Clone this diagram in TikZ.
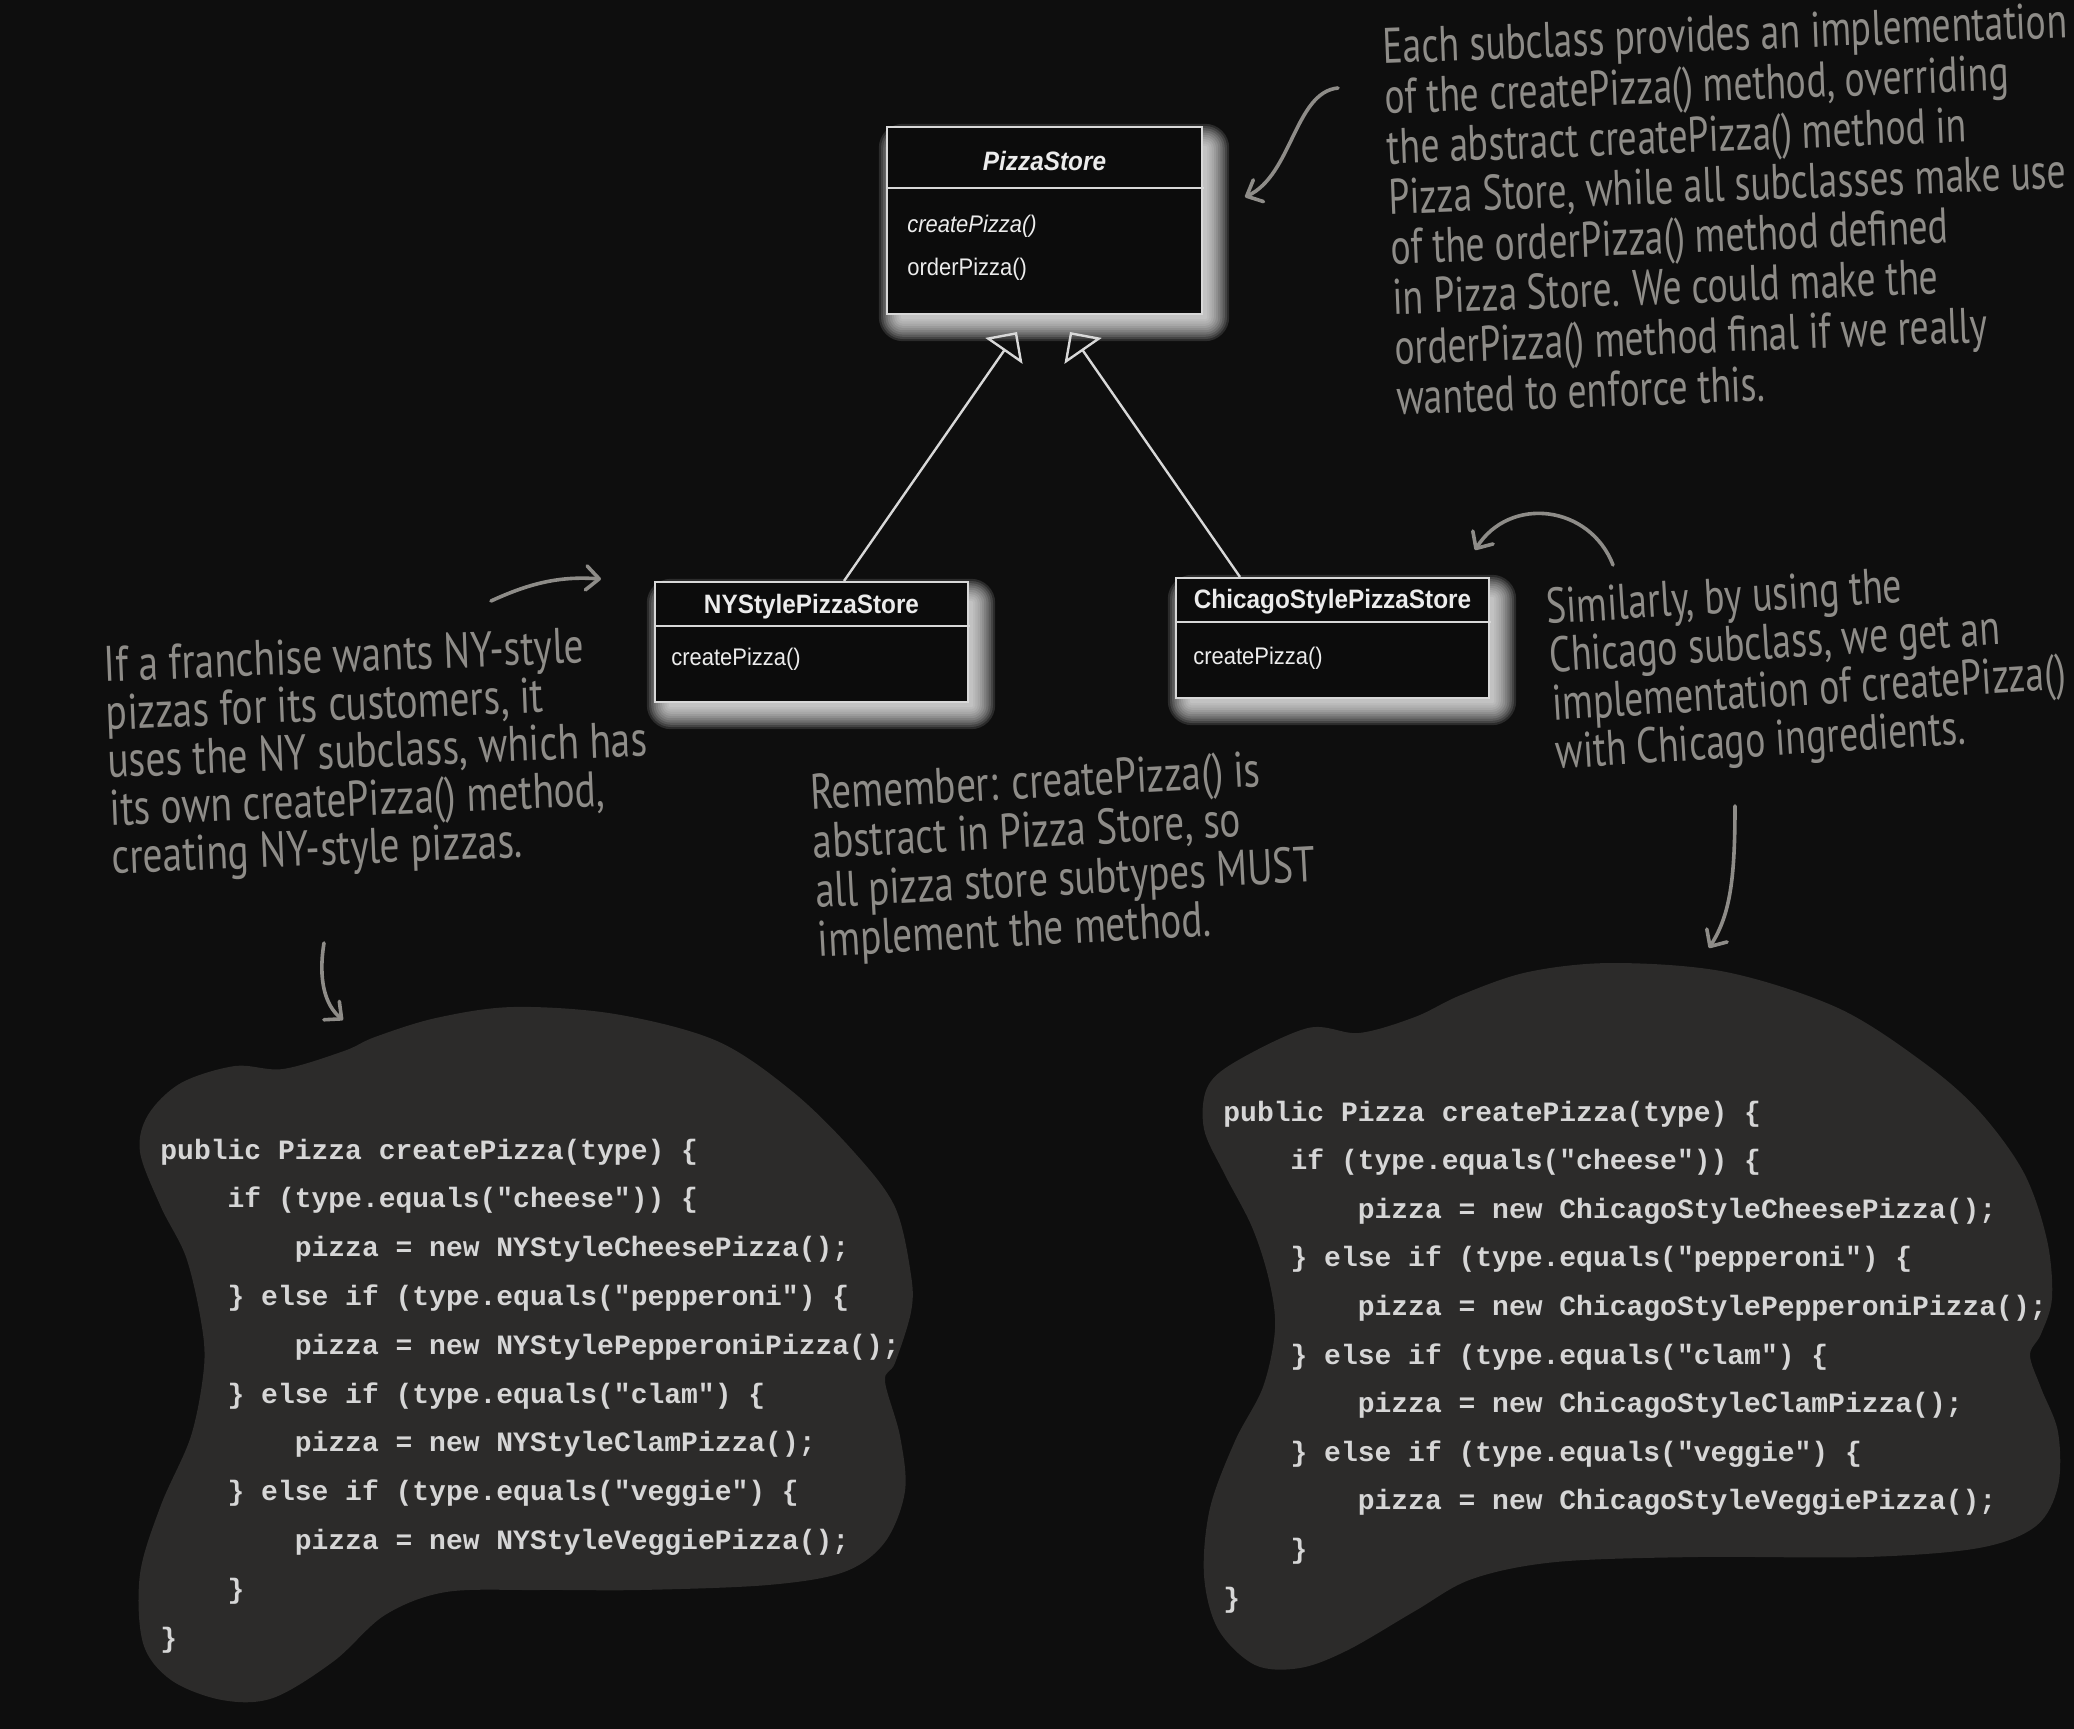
\documentclass[tikz,border=0pt]{standalone}
\usepackage{fontspec}
\setmainfont{Liberation Sans}
\newfontfamily\umlfont[FakeStretch=0.915]{Liberation Sans}
\newfontfamily\handTR[FakeStretch=0.754]{PT Sans}
\newfontfamily\handNY[FakeStretch=0.79]{PT Sans}
\newfontfamily\handRem[FakeStretch=0.783]{PT Sans}
\newfontfamily\handChi[FakeStretch=0.756]{PT Sans}
\newfontfamily\codefont{Liberation Mono}
\usetikzlibrary{arrows.meta,calc}
\definecolor{bgc}{HTML}{0E0E0E}
\definecolor{boxc}{HTML}{0C0C0C}
\definecolor{blobc}{HTML}{2C2B2A}
\definecolor{handc}{HTML}{8E8C88}
\definecolor{umlc}{HTML}{D8D8D8}
\definecolor{umltxt}{HTML}{ECECEC}
\definecolor{codec}{HTML}{D6D6D6}
\pgfdeclarelayer{bglayer}
\pgfdeclarelayer{glowlayer}
\pgfsetlayers{bglayer,glowlayer,main}
\tikzset{
 umlbox/.style={draw=umlc, line width=1pt, fill=boxc, inner sep=0pt},
 umltitle/.style={text=umltxt, font=\umlfont\bfseries\fontsize{13.3pt}{15pt}\selectfont, inner sep=0pt, anchor=base},
 umlmeth/.style={text=umltxt, font=\umlfont\fontsize{12pt}{14pt}\selectfont, inner sep=0pt, anchor=base west},
 inherit/.style={draw=umlc, line width=1.2pt, -{Triangle[open, length=11.5pt, width=22.5pt]}},
 hand/.style={text=handc, align=left, inner sep=0pt, anchor=north west},
 pointer/.style={draw=handc, line width=1.8pt, line cap=round, -{Straight Barb[length=6.5pt, width=12pt, round]}},
 codetxt/.style={text=codec, font=\codefont\bfseries\fontsize{14pt}{16pt}\selectfont, inner sep=0pt, anchor=base west}
}
\newcommand\glowof[1]{\foreach \e in {1,...,11}{\fill[white, opacity=0.12, rounded corners=1.1*\e pt] ($(#1.north west)+(17-2.2*\e,22-2.2*\e)$) rectangle ($(#1.south east)+(2+2.2*\e,2+2.2*\e)$);}}
\begin{document}
\begin{tikzpicture}[x=0.5pt, y=-0.5pt]
\begin{pgfonlayer}{bglayer}
\fill[bgc] (0,0) rectangle (2074,1729);
\end{pgfonlayer}
\useasboundingbox (0,0) rectangle (2074,1729);

% code blobs
\fill[blobc] plot[smooth cycle, tension=0.55] coordinates {(235,1066) (181,1083) (148,1115) (140,1152) (161,1207) (186,1257) (201,1321) (204,1367) (191,1436) (161,1505) (140,1574) (143,1643) (171,1680) (222,1700) (273,1698) (334,1661) (385,1615) (446,1592) (538,1590) (640,1590) (768,1585) (844,1572) (885,1542) (905,1491) (900,1436) (885,1381) (895,1363) (911,1312) (911,1275) (895,1207) (854,1152) (793,1092) (717,1041) (615,1014) (513,1007) (436,1018) (375,1037) (344,1051) (283,1069)};
\fill[blobc] plot[smooth cycle, tension=0.55] coordinates {(1308,1028) (1235,1062) (1207,1088) (1204,1129) (1224,1173) (1252,1227) (1269,1280) (1275,1329) (1263,1387) (1235,1441) (1210,1508) (1204,1575) (1218,1629) (1255,1665) (1300,1668) (1348,1650) (1415,1611) (1472,1579) (1556,1562) (1697,1557) (1866,1557) (1979,1548) (2036,1526) (2058,1486) (2058,1432) (2041,1388) (2030,1355) (2041,1334) (2052,1298) (2047,1240) (2024,1173) (1979,1111) (1923,1062) (1838,1008) (1726,972) (1613,963) (1528,972) (1461,995) (1415,1017) (1359,1033)};

% UML classes
\node[umlbox, minimum width=157.5pt, minimum height=93.5pt] (ps) at (1044.5,220.5) {};
\draw[umlc, line width=1pt] (ps.north west) ++(0,62) -- ++(318,0);
\node[umltitle, font=\umlfont\bfseries\itshape\fontsize{13.3pt}{15pt}\selectfont] (pst) at (1044.5,170.7) {PizzaStore};
\node[umlmeth] (psm1) at (907,232.3) {\itshape createPizza()};
\node[umlmeth] (psm2) at (907,275) {orderPizza()};

\node[umlbox, minimum width=156.5pt, minimum height=60pt] (ny) at (811.5,642) {};
\draw[umlc, line width=1pt] (ny.north west) ++(0,45) -- ++(316,0);
\node[umltitle] (nyt) at (811.5,613.5) {NYStylePizzaStore};
\node[umlmeth] (nym) at (671,665.5) {createPizza()};

\node[umlbox, minimum width=156.5pt, minimum height=60pt] (chi) at (1332.5,638) {};
\draw[umlc, line width=1pt] (chi.north west) ++(0,45) -- ++(316,0);
\node[umltitle] (chit) at (1332.5,608.5) {ChicagoStylePizzaStore};
\node[umlmeth] (chim) at (1193,664) {createPizza()};

\begin{pgfonlayer}{glowlayer}
\glowof{ps}
\glowof{ny}
\glowof{chi}
\end{pgfonlayer}

\coordinate (tipL) at (1017,332);
\coordinate (tipR) at (1070,332);
\draw[inherit] ([xshift=16.25pt]ny.north) -- (tipL);
\draw[inherit] ([xshift=-46.25pt]chi.north) -- (tipR);

% annotations
\node[hand, rotate=2.2, font=\handTR\fontsize{25pt}{25.1pt}\selectfont] (noteTR) at (1382,28) {Each subclass provides an implementation\\of the createPizza() method, overriding\\the abstract createPizza() method in\\Pizza Store, while all subclasses make use\\of the orderPizza() method defined\\in Pizza Store. We could make the\\orderPizza() method final if we really\\wanted to enforce this.};
\node[hand, rotate=2.3, font=\handNY\fontsize{25pt}{24pt}\selectfont] (noteNY) at (103,646) {If a franchise wants NY-style\\pizzas for its customers, it\\uses the NY subclass, which has\\its own createPizza() method,\\creating NY-style pizzas.};
\node[hand, rotate=3, font=\handRem\fontsize{25pt}{24.5pt}\selectfont] (noteRem) at (809,774) {Remember: createPizza() is\\abstract in Pizza Store, so\\all pizza store subtypes MUST\\implement the method.};
\node[hand, rotate=3.5, font=\handChi\fontsize{25pt}{24.2pt}\selectfont] (noteChi) at (1545,588) {Similarly, by using the\\Chicago subclass, we get an\\implementation of createPizza()\\with Chicago ingredients.};

% pointer arrows
\coordinate (p1s) at (1338,88); \coordinate (p1e) at (1245,197);
\draw[pointer] (p1s) .. controls (1295,92) and (1292,175) .. (p1e);
\coordinate (p2s) at (491,601); \coordinate (p2e) at (601,579);
\draw[pointer] (p2s) .. controls (530,583) and (560,576) .. (p2e);
\coordinate (p3s) at (324,943); \coordinate (p3e) at (343,1020);
\draw[pointer] (p3s) .. controls (318,980) and (325,1005) .. (p3e);
\coordinate (p4s) at (1613,565); \coordinate (p4e) at (1475,550);
\draw[pointer] (p4s) .. controls (1590,505) and (1510,495) .. (p4e);
\coordinate (p5s) at (1735,806); \coordinate (p5e) at (1709,948);
\draw[pointer] (p5s) .. controls (1735,880) and (1730,915) .. (p5e);

% code
\foreach \lv/\tx [count=\i] in {0/{public Pizza createPizza(type) \{},1/{if (type.equals("cheese")) \{},2/{pizza = new NYStyleCheesePizza();},1/{\} else if (type.equals("pepperoni") \{},2/{pizza = new NYStylePepperoniPizza();},1/{\} else if (type.equals("clam") \{},2/{pizza = new NYStyleClamPizza();},1/{\} else if (type.equals("veggie") \{},2/{pizza = new NYStyleVeggiePizza();},1/{\}},0/{\}}}
{\node[codetxt] (nyc\i) at ({160+67.2*\lv},{1159+48.8*(\i-1)}) {\tx};}
\foreach \lv/\tx [count=\i] in {0/{public Pizza createPizza(type) \{},1/{if (type.equals("cheese")) \{},2/{pizza = new ChicagoStyleCheesePizza();},1/{\} else if (type.equals("pepperoni") \{},2/{pizza = new ChicagoStylePepperoniPizza();},1/{\} else if (type.equals("clam") \{},2/{pizza = new ChicagoStyleClamPizza();},1/{\} else if (type.equals("veggie") \{},2/{pizza = new ChicagoStyleVeggiePizza();},1/{\}},0/{\}}}
{\node[codetxt] (chc\i) at ({1223+67.2*\lv},{1121+48.6*(\i-1)}) {\tx};}
\end{tikzpicture}
\end{document}
